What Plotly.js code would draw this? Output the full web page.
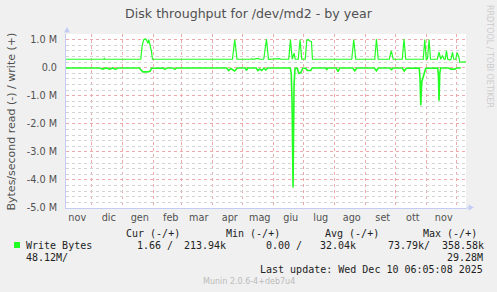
<!DOCTYPE html>
<html><head><meta charset="utf-8">
<script src="https://cdn.plot.ly/plotly-3.0.1.min.js"></script>
<style>html,body{margin:0;padding:0;background:#f0f0f0;}#chart{width:497px;height:292px;}</style>
</head><body><div id="chart"></div>
<script>
// ---- data (bytes/second) ----
const writeDates = ['2024-11-05 06:05','2024-11-19','2024-12-13','2024-12-13 12:00','2024-12-14','2025-01-19','2025-01-20 12:00','2025-01-22','2025-01-23 12:00','2025-01-25','2025-01-26 07:00','2025-01-27','2025-01-28 17:00','2025-01-29 17:00','2025-01-30 17:00','2025-02-17','2025-02-18','2025-02-19','2025-02-23','2025-02-25','2025-03-06','2025-03-07 12:00','2025-04-20 17:00','2025-04-23','2025-04-25 07:00','2025-05-09','2025-05-10','2025-05-11','2025-05-16 07:00','2025-05-18','2025-05-20','2025-05-22','2025-05-24 17:00','2025-05-26 17:00','2025-06-07','2025-06-08','2025-06-16','2025-06-17 17:00','2025-06-19 12:00','2025-06-21 07:00','2025-06-22 12:00','2025-06-25 12:00','2025-06-27 07:00','2025-06-29','2025-07-02 12:00','2025-07-04','2025-07-05 12:00','2025-07-07','2025-07-08 17:00','2025-07-09 17:00','2025-07-23','2025-07-24','2025-07-25','2025-08-18','2025-08-20','2025-08-22','2025-09-10','2025-09-11 17:00','2025-09-13 12:00','2025-09-24 12:00','2025-09-26 12:00','2025-09-28 12:00','2025-10-07 12:00','2025-10-09 07:00','2025-10-11','2025-10-28 12:00','2025-10-30','2025-10-31 12:00','2025-11-01 19:00','2025-11-03 07:00','2025-11-04 19:00','2025-11-11 12:00','2025-11-13 07:00','2025-11-15','2025-11-16 17:00','2025-11-18 07:00','2025-11-19 12:00','2025-11-20 17:00','2025-11-22','2025-11-24','2025-11-25 07:00','2025-11-26 17:00','2025-11-28','2025-11-30','2025-12-01 07:00','2025-12-03','2025-12-04','2025-12-10 06:05'];
const writeValues = [300e3,295e3,300e3,330e3,300e3,300e3,800e3,1000e3,1030e3,970e3,870e3,1000e3,730e3,590e3,300e3,300e3,320e3,300e3,310e3,300e3,320e3,300e3,300e3,1000e3,300e3,300e3,320e3,300e3,330e3,300e3,310e3,300e3,1020e3,300e3,320e3,300e3,300e3,1000e3,300e3,520e3,300e3,300e3,1000e3,300e3,300e3,970e3,1000e3,950e3,930e3,300e3,300e3,310e3,300e3,300e3,1000e3,300e3,300e3,1020e3,300e3,300e3,600e3,300e3,300e3,1020e3,300e3,300e3,1000e3,300e3,320e3,1000e3,300e3,300e3,550e3,300e3,430e3,300e3,300e3,610e3,300e3,280e3,300e3,550e3,300e3,300e3,530e3,400e3,200e3,210e3];

const readDates = ['2024-11-05 06:05','2024-12-09','2024-12-12','2024-12-15','2024-12-19','2024-12-22','2024-12-25','2024-12-27','2025-01-17 12:00','2025-01-19','2025-01-21','2025-01-26','2025-01-28 12:00','2025-01-29 17:00','2025-02-10','2025-02-12','2025-02-14','2025-02-20','2025-02-22','2025-02-24','2025-04-15','2025-04-17','2025-04-19','2025-04-23','2025-04-25 12:00','2025-05-03 12:00','2025-05-04 17:00','2025-05-06','2025-05-14 12:00','2025-05-16','2025-05-18','2025-05-20','2025-05-22','2025-05-24','2025-05-26','2025-06-17 12:00','2025-06-18 12:00','2025-06-19 07:00','2025-06-20 07:00','2025-06-21 07:00','2025-06-22 07:00','2025-06-24 12:00','2025-06-26','2025-06-28','2025-06-30','2025-07-03','2025-07-04 12:00','2025-07-08','2025-07-09 12:00','2025-07-23','2025-07-24','2025-07-25','2025-08-02 12:00','2025-08-04 07:00','2025-08-06','2025-08-19','2025-08-21','2025-08-23','2025-09-09 12:00','2025-09-11 17:00','2025-09-13 12:00','2025-09-25','2025-09-26 17:00','2025-09-28 12:00','2025-10-07 12:00','2025-10-09 12:00','2025-10-11 12:00','2025-10-24 12:00','2025-10-25 07:00','2025-10-26','2025-10-27','2025-10-28 07:00','2025-10-29 12:00','2025-10-31','2025-11-12','2025-11-12 17:00','2025-11-13 07:00','2025-11-14','2025-11-15','2025-11-23','2025-11-25','2025-11-29','2025-12-01','2025-12-05'];
const readValues = [-10e3,-10e3,-50e3,-10e3,-50e3,-10e3,-60e3,-10e3,-10e3,-80e3,-150e3,-150e3,-120e3,-20e3,-10e3,-60e3,-10e3,-10e3,-60e3,-10e3,-10e3,-100e3,-30e3,-120e3,-10e3,-10e3,-100e3,-10e3,-10e3,-100e3,-50e3,-100e3,-20e3,-80e3,-10e3,-10e3,-200e3,-1200e3,-4270e3,-600e3,-30e3,-20e3,-200e3,-180e3,-20e3,-20e3,-100e3,-100e3,-10e3,-10e3,-60e3,-10e3,-10e3,-140e3,-10e3,-10e3,-110e3,-10e3,-10e3,-110e3,-10e3,-10e3,-70e3,-10e3,-10e3,-120e3,-20e3,-10e3,-400e3,-1340e3,-500e3,-350e3,-150e3,-20e3,-10e3,-300e3,-1180e3,-200e3,-10e3,-10e3,-50e3,-50e3,-10e3,-10e3];

const monthLabels = ['nov','dic','gen','feb','mar','apr','mag','giu','lug','ago','set','ott','nov'];
const monthLabelDates = ['2024-11-16 12:00','2024-12-18','2025-01-18','2025-02-18','2025-03-18','2025-04-18','2025-05-18','2025-06-18','2025-07-18','2025-08-18','2025-09-18','2025-10-18','2025-11-18'];
const monthStarts = ['2024-12-01','2025-01-01','2025-02-01','2025-03-01','2025-04-01','2025-05-01','2025-06-01','2025-07-01','2025-08-01','2025-09-01','2025-10-01','2025-11-01','2025-12-01'];
const yTickValues = [-5e6,-4e6,-3e6,-2e6,-1e6,0,1e6];
const yTickLabels = ['-5.0 M','-4.0 M','-3.0 M','-2.0 M','-1.0 M','0.0','1.0 M'];

const legendHeaders = ['Cur (-/+)','Min (-/+)','Avg (-/+)','Max (-/+)'];
const seriesName = 'Write Bytes';
const legendValues = ['1.66 /','213.94k','0.00 /','32.04k','73.79k/','358.58k'];
const legendWrap = ['48.12M/','29.28M'];
const lastUpdate = 'Last update: Wed Dec 10 06:05:08 2025';
const footer = 'Munin 2.0.6-4+deb7u4';
const sideText = 'RRDTOOL / TOBI OETIKER';
const yTitle = 'Bytes/second read (-) / write (+)';

// ---- layout helpers ----
const L = 66, R = 466, T = 34, B = 208;
const px = v => (v - L) / (R - L);
const py = v => (B - v) / (B - T);
const GREEN = '#22ff22';
const mono = 'DejaVu Sans Mono';
const sans = 'DejaVu Sans';

function ann(text, x, y, anchor, opts) {
  return Object.assign({text: text, xref: 'paper', yref: 'paper', x: px(x), y: py(y),
    xanchor: anchor, yanchor: 'middle', showarrow: false, borderpad: 0, borderwidth: 0,
    font: {family: mono, size: 10, color: '#222'}}, opts || {});
}

const hdrX = [125.7, 225.7, 325, 423.3];
const valX = [136.7, 184.3, 265.7, 320, 387.7, 441.7];
const annotations = [];
legendHeaders.forEach((t, i) => annotations.push(ann(t, hdrX[i], 233.3, 'left')));
annotations.push(ann(seriesName, 26, 245, 'left'));
legendValues.forEach((t, i) => annotations.push(ann(t, valX[i], 245, 'left')));
annotations.push(ann(legendWrap[0], 26, 257.7, 'left'));
annotations.push(ann(legendWrap[1], 482.7, 257.7, 'right'));
annotations.push(ann(lastUpdate, 482.7, 269.3, 'right'));
annotations.push(ann(footer, 249, 281, 'center', {font: {family: sans, size: 8, color: '#bbbbbb'}}));
annotations.push(ann(sideText, 489, 56, 'center', {textangle: 90, font: {family: sans, size: 8, color: '#cccccc'}}));
annotations.push(ann(yTitle, 10.5, 122, 'center', {textangle: -90, font: {family: sans, size: 11, color: '#505050'}}));

const AXC = '#c4ccf4';
const shapes = [
  {type: 'rect', xref: 'paper', yref: 'paper', x0: px(14), x1: px(20), y0: py(248), y1: py(242),
   fillcolor: GREEN, line: {width: 0}},
  {type: 'path', xref: 'paper', yref: 'paper',
   path: `M ${px(64)} ${py(32.5)} L ${px(70)} ${py(32.5)} L ${px(67)} ${py(27)} Z`,
   fillcolor: AXC, line: {width: 0}},
  {type: 'line', xref: 'paper', yref: 'paper', x0: px(466), x1: px(469), y0: 0, y1: 0,
   line: {color: AXC, width: 1}},
  {type: 'path', xref: 'paper', yref: 'paper',
   path: `M ${px(468.5)} ${py(204.5)} L ${px(468.5)} ${py(210.5)} L ${px(474)} ${py(207.5)} Z`,
   fillcolor: AXC, line: {width: 0}}
];

const data = [
  {type: 'scatter', mode: 'lines', x: readDates, y: readValues,
   line: {color: GREEN, width: 1.6}, hoverinfo: 'skip'},
  {type: 'scatter', mode: 'lines', x: writeDates, y: writeValues, name: seriesName,
   line: {color: GREEN, width: 1.2}, hoverinfo: 'skip'}
];

const layout = {
  width: 497, height: 292, autosize: false,
  paper_bgcolor: '#f0f0f0', plot_bgcolor: '#ffffff',
  margin: {l: L, r: 497 - R, t: T, b: 292 - B, pad: 0},
  showlegend: false,
  title: {text: 'Disk throughput for /dev/md2 - by year', xref: 'container', yref: 'container',
    x: 0.5, xanchor: 'center', y: 1 - 13.3 / 292, yanchor: 'middle',
    font: {family: sans, size: 12.6, color: '#505050'}},
  xaxis: {type: 'date', range: ['2024-11-05 06:05', '2025-12-10 06:05'],
    tickmode: 'array', tickvals: monthLabelDates, ticktext: monthLabels,
    showgrid: false, zeroline: false, ticks: '', showline: true, linecolor: AXC, linewidth: 1,
    tickfont: {family: sans, size: 9.7, color: '#505050'},
    minor: {tickmode: 'array', tickvals: monthStarts, showgrid: true, gridcolor: '#eeaaaa',
      griddash: 'dot', gridwidth: 1, ticks: ''}},
  yaxis: {range: [-5e6, 1.2e6], tickmode: 'array', tickvals: yTickValues, ticktext: yTickLabels,
    showgrid: true, gridcolor: '#eeaaaa', griddash: 'dot', gridwidth: 1,
    zeroline: false, ticks: '', showline: true, linecolor: AXC, linewidth: 1,
    ticklabelstandoff: 6,
    tickfont: {family: sans, size: 9.7, color: '#505050'},
    minor: {tickmode: 'linear', tick0: 0, dtick: 2e5, showgrid: true, gridcolor: '#d4d4d4',
      griddash: 'dot', gridwidth: 1, ticks: ''}},
  annotations: annotations,
  shapes: shapes
};

Plotly.newPlot('chart', data, layout, {staticPlot: true, displayModeBar: false});
</script></body></html>
